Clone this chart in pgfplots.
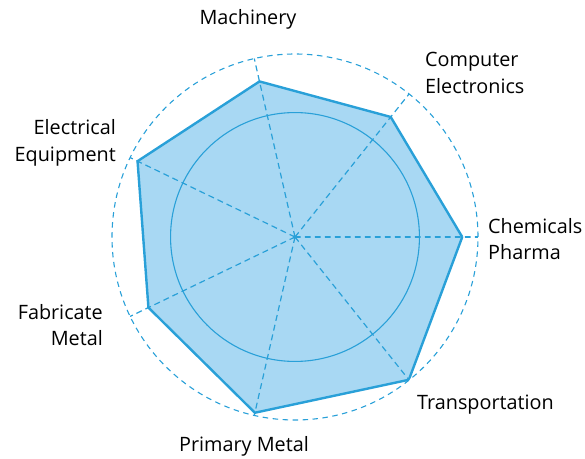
\documentclass[border=0pt]{standalone}
\usepackage{fontspec}
\setmainfont{Open Sans}
\usepackage{pgfplots}
\pgfplotsset{compat=1.18}
\usepgfplotslibrary{polar}
\definecolor{radline}{RGB}{41,160,216}
\definecolor{radfill}{RGB}{168,216,243}

\begin{document}
\begin{tikzpicture}[every node/.style={inner sep=0pt, font=\fontsize{19.8bp}{26.5bp}\selectfont}]
\useasboundingbox (-295bp,-222bp) rectangle (290bp,237bp);
\begin{polaraxis}[
    at={(0,0)}, anchor=origin,
    scale only axis, width=366bp, height=366bp,
    ymin=0, ymax=1,
    xtick={0,51.4286,102.8571,154.2857,205.7143,257.1429,308.5714},
    ytick={0.68},
    xticklabels={}, yticklabels={},
    xmajorgrids, ymajorgrids,
    major tick length=0pt,
    every axis x grid/.append style={radline, line width=1.2bp, dash pattern=on 6bp off 4bp},
    every axis y grid/.append style={radline, line width=1.1bp, solid},
    axis line style={radline, line width=1.1bp, dash pattern=on 5.5bp off 4.5bp},
    axis on top,
]
% values relative to outer ring = 1
\addplot[radline, line width=2.4bp, line join=miter, fill=radfill] coordinates {
    (0,0.914) (51.4286,0.839) (102.8571,0.872) (154.2857,0.955)
    (205.7143,0.889) (257.1429,0.985) (308.5714,0.998) (360,0.914)};
\end{polaraxis}
\node at (-47bp,218bp) {Machinery};
\node[anchor=west, align=left] at (130bp,164bp) {Computer\\Electronics};
\node[anchor=west, align=left] at (193bp,-2bp) {Chemicals\\Pharma};
\node[anchor=west] at (122bp,-168bp) {Transportation};
\node at (-51bp,-209bp) {Primary Metal};
\node[anchor=east, align=right] at (-192bp,-88bp) {Fabricate\\Metal};
\node[anchor=east, align=right] at (-179bp,94bp) {Electrical\\Equipment};
\end{tikzpicture}
\end{document}
